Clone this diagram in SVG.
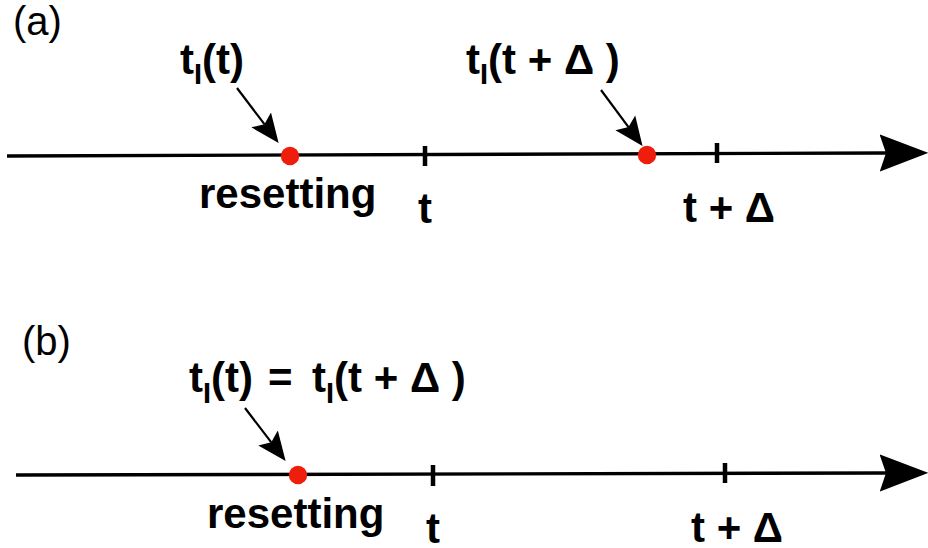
<svg xmlns="http://www.w3.org/2000/svg" width="928" height="548" viewBox="0 0 928 548">
<style>
  .axis { stroke: #000; stroke-width: 3.4; fill: none; }
  .ptr { stroke: #000; stroke-width: 2.2; fill: none; }
  .tick { stroke: #000; stroke-width: 4.5; }
  .dot { fill: #ee1d0c; }
  .lbl { font-family: "Liberation Sans", Arial, sans-serif; font-weight: bold; font-size: 42px; fill: #000; }
  .panel { font-family: "Liberation Sans", Arial, sans-serif; font-size: 40px; fill: #000; }
  .sub { font-size: 29px; }
</style>
<defs>
  <marker id="bighead" markerUnits="userSpaceOnUse" markerWidth="50" markerHeight="40" viewBox="0 -18 47 36" refX="6" refY="0" orient="auto">
    <path d="M46,0 L0,-17.5 L6,0 L0,17.5 Z" fill="#000"/>
  </marker>
  <marker id="smallhead" markerUnits="userSpaceOnUse" markerWidth="30" markerHeight="26" viewBox="0 -12 28 24" refX="5" refY="0" orient="auto">
    <path d="M27,0 L0,-11.5 L5,0 L0,11.5 Z" fill="#000"/>
  </marker>
</defs>

<text class="panel" x="13" y="34.5">(a)</text>
<text class="panel" x="22" y="355">(b)</text>

<g id="connectors">
  <path class="axis" d="M7,156 L886,153" marker-end="url(#bighead)"/>
  <path class="axis" d="M16,475 L886,473" marker-end="url(#bighead)"/>
  <path class="ptr" d="M237,88 L264.4,124.2" marker-end="url(#smallhead)"/>
  <path class="ptr" d="M601,90 L628.5,127.1" marker-end="url(#smallhead)"/>
  <path class="ptr" d="M245,408 L271.3,442.3" marker-end="url(#smallhead)"/>
</g>

<g id="a-tick-t">
  <line class="tick" x1="425" y1="146" x2="425" y2="166"/>
  <text class="lbl" x="418" y="223">t</text>
</g>
<g id="a-tick-tdelta">
  <line class="tick" x1="717" y1="143" x2="717" y2="163"/>
  <text class="lbl" x="683" y="222">t + Δ</text>
</g>
<g id="a-reset">
  <circle class="dot" cx="290" cy="156" r="9.2"/>
  <text class="lbl" x="199" y="208">resetting</text>
</g>
<g id="a-tl-t">
  <text class="lbl" x="180" y="74">t<tspan class="sub" dy="10">I</tspan><tspan dy="-10">(t)</tspan></text>
</g>
<g id="a-tl-tdelta">
  <circle class="dot" cx="647" cy="155" r="9.2"/>
  <text class="lbl" x="466" y="74">t<tspan class="sub" dy="10">I</tspan><tspan dy="-10">(t + Δ )</tspan></text>
</g>

<g id="b-tick-t">
  <line class="tick" x1="433" y1="465" x2="433" y2="486"/>
  <text class="lbl" x="426" y="543">t</text>
</g>
<g id="b-tick-tdelta">
  <line class="tick" x1="725" y1="463" x2="725" y2="483"/>
  <text class="lbl" x="691" y="542">t + Δ</text>
</g>
<g id="b-reset">
  <circle class="dot" cx="298" cy="475" r="9.2"/>
  <text class="lbl" x="207" y="528">resetting</text>
</g>
<g id="b-tl">
  <text class="lbl" x="189" y="392">t<tspan class="sub" dy="11">I</tspan><tspan dy="-11">(t)</tspan><tspan x="268">=</tspan><tspan x="312">t</tspan><tspan class="sub" dy="11">I</tspan><tspan dy="-11">(t + Δ )</tspan></text>
</g>
</svg>
